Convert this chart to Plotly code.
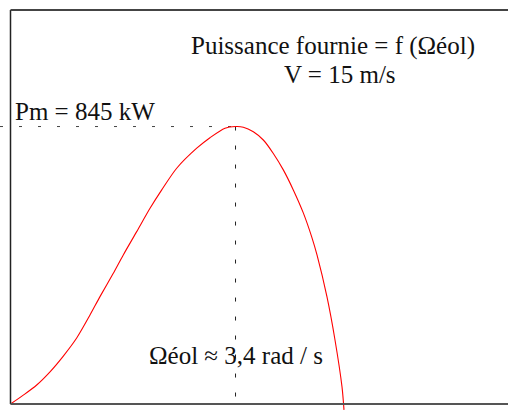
import plotly.graph_objects as go

# Curve: power supplied (kW) vs turbine speed Omega_eol (rad/s), V = 15 m/s
omega = [0.0, 0.193, 0.396, 0.597, 0.798, 1.000, 1.201, 1.352, 1.553, 1.704,
         1.907, 2.108, 2.285, 2.511, 2.814, 3.014, 3.241, 3.4, 3.518, 3.669,
         3.820, 3.971, 4.122, 4.273, 4.424, 4.551, 4.631, 4.782, 4.903, 5.009,
         5.039]
power = [0, 27, 58, 98, 146, 201, 271, 327, 398, 454,
         525, 596, 652, 718, 779, 811, 840, 845, 843, 829,
         804, 763, 713, 652, 582, 509, 454, 326, 195, 52,
         -18]

omega_opt = 3.4
p_max = 845

x_min, x_max = -0.1587, 7.517
y_min, y_max = -24.36, 1206

title1 = "Puissance fournie = f (Ωéol)"
title2 = "V = 15 m/s"
label_pm = "Pm = 845 kW"
label_om = "Ωéol ≈ 3,4 rad / s"

FONT = "Liberation Serif, Times New Roman, serif"

fig = go.Figure()

# dashed guides
fig.add_trace(go.Scatter(x=[x_min, omega_opt], y=[p_max, p_max], mode="lines",
                         line=dict(color="#444444", width=1, dash="3px,16px"),
                         hoverinfo="skip", showlegend=False))
fig.add_trace(go.Scatter(x=[omega_opt, omega_opt], y=[p_max, 0], mode="lines",
                         line=dict(color="#222222", width=1, dash="4px,15px"),
                         hoverinfo="skip", showlegend=False))

# curve
fig.add_trace(go.Scatter(x=omega, y=power, mode="lines",
                         line=dict(color="#ff0000", width=1.1, shape="spline", smoothing=0.8),
                         hoverinfo="skip", showlegend=False))

# frame (left, top, bottom)
fig.add_shape(type="line", x0=0, x1=0, y0=0, y1=1200, line=dict(color="#222222", width=1.5))
fig.add_shape(type="line", x0=0, x1=x_max, y0=1200, y1=1200, line=dict(color="#444444", width=2))
fig.add_shape(type="line", x0=0, x1=x_max, y0=0, y1=0, line=dict(color="#555555", width=2))

ann_font = dict(family=FONT, size=25, color="#111111")
fig.add_annotation(x=4.873, y=1091.7, text=title1, showarrow=False, font=ann_font,
                   xanchor="center", yanchor="middle")
fig.add_annotation(x=4.979, y=1003.3, text=title2, showarrow=False, font=ann_font,
                   xanchor="center", yanchor="middle")
fig.add_annotation(x=1.126, y=890.7, text=label_pm, showarrow=False, font=ann_font,
                   xanchor="center", yanchor="middle")
fig.add_annotation(x=omega_opt, y=149.2, text=label_om, showarrow=False, font=ann_font,
                   xanchor="center", yanchor="middle")

fig.update_xaxes(range=[x_min, x_max], showgrid=False, zeroline=False, showticklabels=False,
                 ticks="", showline=False)
fig.update_yaxes(range=[y_min, y_max], showgrid=False, zeroline=False, showticklabels=False,
                 ticks="", showline=False)

fig.update_layout(width=508, height=412, margin=dict(l=0, r=0, t=8, b=0),
                  paper_bgcolor="white", plot_bgcolor="white")

fig.write_html("out.html", config={"displayModeBar": False},
               post_script="document.body.style.margin='0';")
